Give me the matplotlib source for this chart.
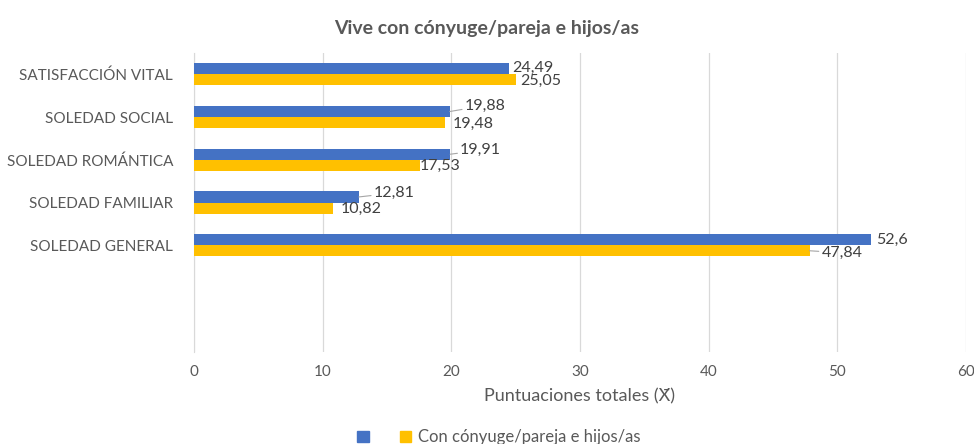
import matplotlib.pyplot as plt
import matplotlib.patches as mpatches
import numpy as np

plt.rcParams['font.family'] = ['Lato', 'DejaVu Sans']

# datos (de arriba hacia abajo)
categorias = ['SATISFACCIÓN VITAL', 'SOLEDAD SOCIAL', 'SOLEDAD ROMÁNTICA',
              'SOLEDAD FAMILIAR', 'SOLEDAD GENERAL']
serie_azul = [24.49, 19.88, 19.91, 12.81, 52.6]
serie_amarilla = [25.05, 19.48, 17.53, 10.82, 47.84]
etiqueta_amarilla = 'Con cónyuge/pareja e hijos/as'

# desplazamiento de etiquetas (px) y si llevan línea guía
desp_azul = [(3, 1), (15, 6), (10, 4), (15, 4), (5, 0)]
guia_azul = [False, True, True, True, False]
desp_amar = [(4, -1), (8, -1), (0, -1), (7, -1), (12, -2)]
guia_amar = [False, False, False, False, True]

gris = '#595959'
fig = plt.figure(figsize=(9.74, 4.44), dpi=100)
ax = fig.add_axes([194 / 974, 1 - 352 / 444, (966 - 194) / 974, (352 - 53) / 444])

y = np.arange(len(categorias))
h = 0.26
ax.barh(y - h / 2, serie_azul, height=h, color='#4472c4', zorder=3)
ax.barh(y + h / 2, serie_amarilla, height=h, color='#ffc000', zorder=3)

def fmt(v):
    return ('%g' % v).replace('.', ',')

for i in range(len(categorias)):
    for vals, desp, guia, dy in ((serie_azul, desp_azul, guia_azul, -h / 2),
                                 (serie_amarilla, desp_amar, guia_amar, h / 2)):
        ap = dict(arrowstyle='-', color='#a6a6a6', lw=0.8,
                  shrinkA=0, shrinkB=0) if guia[i] else None
        ax.annotate(fmt(vals[i]), xy=(vals[i], y[i] + dy), xytext=desp[i],
                    textcoords='offset pixels', ha='left', va='center',
                    fontsize=11.5, color='#404040', arrowprops=ap, zorder=4)

ax.set_xlim(0, 60)
ax.set_ylim(6.5, -0.5)
ax.set_xticks(np.arange(0, 61, 10))
ax.set_yticks(y)
ax.set_yticklabels(categorias)
ax.tick_params(axis='both', length=0, labelsize=11, colors=gris)
ax.tick_params(axis='y', pad=15)
ax.tick_params(axis='x', pad=9)
ax.grid(axis='x', color='#d9d9d9', lw=0.9, zorder=0)
for s in ['top', 'right', 'bottom']:
    ax.spines[s].set_visible(False)
ax.spines['left'].set_color('#d9d9d9')

ax.set_xlabel('Puntuaciones totales (X\u0304)', fontsize=13, color=gris, labelpad=7)
fig.suptitle('Vive con cónyuge/pareja e hijos/as', fontsize=14, fontweight='bold',
             color=gris, y=0.955)

handles = [mpatches.Patch(color='#4472c4', label=' '),
           mpatches.Patch(color='#ffc000', label=etiqueta_amarilla)]
fig.legend(handles=handles, loc='center', bbox_to_anchor=(0.512, 0.015), ncol=2,
           frameon=False, fontsize=12, labelcolor=gris, handlelength=0.7,
           handleheight=0.7, handletextpad=0.4, columnspacing=1.2)

plt.savefig('out.png', dpi=100)
